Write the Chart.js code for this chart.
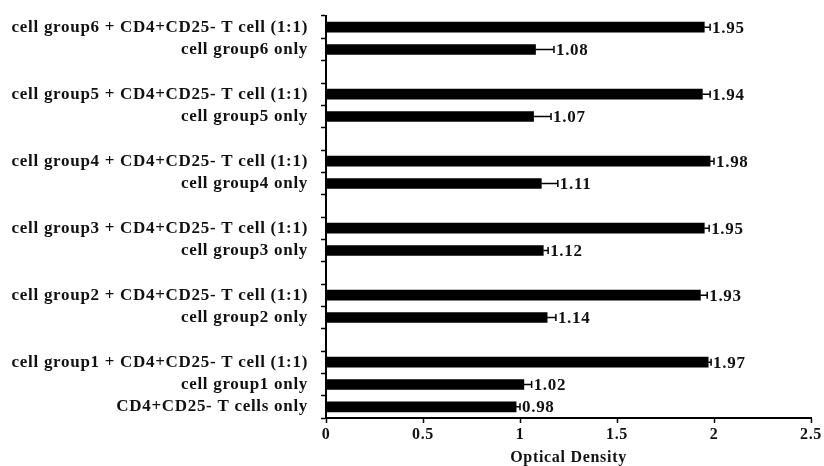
<!DOCTYPE html>
<html>
<head>
<meta charset="utf-8">
<script src="https://cdn.jsdelivr.net/npm/chart.js@4/dist/chart.umd.min.js"></script>
<style>
  html, body { margin: 0; padding: 0; background: #ffffff; }
  #wrap { width: 824px; height: 466px; }
</style>
</head>
<body>
<div id="wrap"><canvas id="chart" width="824" height="466"></canvas></div>
<script>
// Rows from top to bottom; empty strings are spacer rows between groups
const rowLabels = [
  'cell group6 + CD4+CD25- T cell (1:1)', 'cell group6 only', '',
  'cell group5 + CD4+CD25- T cell (1:1)', 'cell group5 only', '',
  'cell group4 + CD4+CD25- T cell (1:1)', 'cell group4 only', '',
  'cell group3 + CD4+CD25- T cell (1:1)', 'cell group3 only', '',
  'cell group2 + CD4+CD25- T cell (1:1)', 'cell group2 only', '',
  'cell group1 + CD4+CD25- T cell (1:1)', 'cell group1 only', 'CD4+CD25- T cells only'
];
const opticalDensity = [
  1.95, 1.08, null,
  1.94, 1.07, null,
  1.98, 1.11, null,
  1.95, 1.12, null,
  1.93, 1.14, null,
  1.97, 1.02, 0.98
];
const errorMargin = [
  0.03, 0.095, null,
  0.04, 0.09, null,
  0.02, 0.085, null,
  0.025, 0.025, null,
  0.035, 0.045, null,
  0.015, 0.04, 0.02
];
const xTickValues = [0, 0.5, 1, 1.5, 2, 2.5];
const xTickLabels = ['0', '0.5', '1', '1.5', '2', '2.5'];

const serif = '"Liberation Serif", "Times New Roman", serif';
const ink = '#111111';

// Slightly open letter spacing for all chart text
const letterSpacingPlugin = {
  id: 'letterSpacing',
  beforeDraw(chart) {
    chart.ctx.letterSpacing = '0.7px';
  }
};

// Error whiskers (positive side) and value labels at the end of each bar
const errorBarPlugin = {
  id: 'errorBars',
  afterDatasetsDraw(chart) {
    const ctx = chart.ctx;
    const xs = chart.scales.x;
    const ys = chart.scales.y;
    ctx.save();
    ctx.strokeStyle = '#000';
    ctx.lineWidth = 1.5;
    ctx.fillStyle = ink;
    ctx.font = 'bold 17px ' + serif;
    ctx.textBaseline = 'middle';
    ctx.textAlign = 'left';
    opticalDensity.forEach((v, i) => {
      if (v === null) return;
      const y = ys.getPixelForValue(i);
      const x0 = xs.getPixelForValue(v);
      const x1 = xs.getPixelForValue(v + errorMargin[i]);
      ctx.beginPath();
      ctx.moveTo(x0, y);
      ctx.lineTo(x1, y);
      ctx.moveTo(x1, y - 3.5);
      ctx.lineTo(x1, y + 3.5);
      ctx.stroke();
      ctx.fillText(v.toFixed(2), x1 + 2, y + 1);
    });
    ctx.restore();
  }
};

new Chart(document.getElementById('chart'), {
  type: 'bar',
  data: {
    labels: rowLabels,
    datasets: [{
      data: opticalDensity,
      backgroundColor: '#000000',
      borderWidth: 0,
      barThickness: 10
    }]
  },
  options: {
    indexAxis: 'y',
    responsive: false,
    animation: false,
    layout: { padding: { top: 16, right: 13, bottom: 0, left: 0 } },
    plugins: {
      legend: { display: false },
      tooltip: { enabled: false }
    },
    scales: {
      x: {
        min: 0,
        max: 2.5,
        afterBuildTicks(scale) {
          scale.ticks = xTickValues.map(v => ({ value: v }));
        },
        afterFit(scale) { scale.height = 48; },
        border: { display: true, color: '#000', width: 2 },
        grid: {
          drawOnChartArea: false,
          drawTicks: true,
          tickLength: 5,
          tickColor: '#000',
          tickWidth: 1.5
        },
        ticks: {
          color: ink,
          padding: 2,
          callback: (value, index) => xTickLabels[index],
          font: { family: serif, size: 16, weight: 'bold' }
        },
        title: {
          display: true,
          text: 'Optical Density',
          color: ink,
          padding: { top: 0, bottom: 0 },
          font: { family: serif, size: 16, weight: 'bold', lineHeight: 1 }
        }
      },
      y: {
        afterFit(scale) {
          scale.width = 326;
          scale.paddingTop = 0;
          scale.paddingBottom = 0;
        },
        border: { display: true, color: '#000', width: 2 },
        grid: {
          drawOnChartArea: false,
          drawTicks: true,
          offset: true,
          tickLength: 5,
          tickColor: '#000',
          tickWidth: 1.5
        },
        ticks: {
          color: ink,
          padding: 13,
          autoSkip: false,
          font: { family: serif, size: 17, weight: 'bold' }
        }
      }
    }
  },
  plugins: [letterSpacingPlugin, errorBarPlugin]
});
</script>
</body>
</html>
